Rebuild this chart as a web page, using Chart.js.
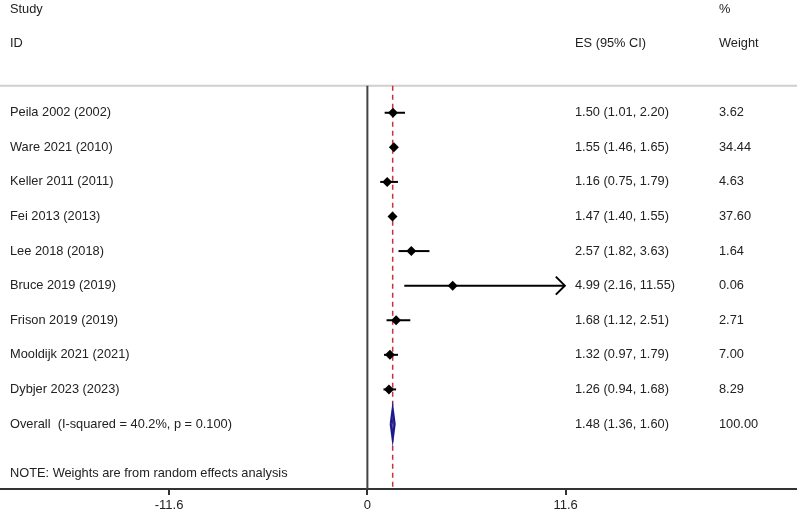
<!DOCTYPE html>
<html>
<head>
<meta charset="utf-8">
<script src="https://cdn.jsdelivr.net/npm/chart.js@4.4.0/dist/chart.umd.min.js"></script>
<style>
  html, body { margin: 0; padding: 0; background: #fff; }
  #wrap { width: 797px; height: 516px; }
</style>
</head>
<body>
<div id="wrap"><canvas id="forest"></canvas></div>
<script>
// dados do forest plot
const studies = ['Peila 2002 (2002)', 'Ware 2021 (2010)', 'Keller 2011 (2011)', 'Fei 2013 (2013)',
  'Lee 2018 (2018)', 'Bruce 2019 (2019)', 'Frison 2019 (2019)', 'Mooldijk 2021 (2021)', 'Dybjer 2023 (2023)'];
const es = [1.50, 1.55, 1.16, 1.47, 2.57, 4.99, 1.68, 1.32, 1.26];
const ciLow = [1.01, 1.46, 0.75, 1.40, 1.82, 2.16, 1.12, 0.97, 0.94];
const ciHigh = [2.20, 1.65, 1.79, 1.55, 3.63, 11.55, 2.51, 1.79, 1.68];
const weights = ['3.62', '34.44', '4.63', '37.60', '1.64', '0.06', '2.71', '7.00', '8.29'];
const overallLabel = 'Overall  (I-squared = 40.2%, p = 0.100)';
const overall = { es: 1.48, low: 1.36, high: 1.60, weight: '100.00' };
const xTicks = [-11.6, 0, 11.6];
const noteText = 'NOTE: Weights are from random effects analysis';

const TXT = '#222';
const FAMILY = '"Liberation Sans", Arial, sans-serif';
const FONT = '12.8px ' + FAMILY;
const X_MIN = -21.2, X_MAX = 24.84;
const Y_TOP = -2.116, Y_BOTTOM = 11.88;
const LINE_TOP = 0.22;
const overallRow = studies.length + 1;

// linhas de IC de cada estudo
const ciSets = studies.map((s, i) => ({
  type: 'line',
  data: [{ x: ciLow[i], y: i + 1 }, { x: ciHigh[i], y: i + 1 }],
  borderColor: '#000', borderWidth: 2, pointRadius: 0, order: 2
}));

const datasets = [
  {
    type: 'line', // linha cinza do cabeçalho
    data: [{ x: X_MIN - 0.3, y: LINE_TOP }, { x: X_MAX + 0.4, y: LINE_TOP }],
    borderColor: '#cfcfcf', borderWidth: 2, pointRadius: 0, order: 5, clip: false
  },
  {
    type: 'line', // linha do zero
    data: [{ x: 0, y: LINE_TOP }, { x: 0, y: Y_BOTTOM }],
    borderColor: '#444', borderWidth: 2, pointRadius: 0, order: 4
  },
  {
    type: 'line', // efeito global
    data: [{ x: overall.es, y: LINE_TOP }, { x: overall.es, y: Y_BOTTOM }],
    borderColor: '#c8323c', borderWidth: 1.5, borderDash: [5, 4], pointRadius: 0, order: 3
  },
  ...ciSets,
  {
    type: 'scatter',
    data: es.map((v, i) => ({ x: v, y: i + 1 })),
    pointStyle: 'rectRot', pointRadius: 5, backgroundColor: '#000', borderColor: '#000', borderWidth: 0, order: 1
  },
  {
    type: 'line', // diamante
    data: [
      { x: overall.low, y: overallRow }, { x: overall.es, y: overallRow - 0.45 },
      { x: overall.high, y: overallRow }, { x: overall.es, y: overallRow + 0.45 },
      { x: overall.low, y: overallRow }
    ],
    borderColor: '#1a1a8c', backgroundColor: 'rgba(26,26,140,0.75)', fill: 'shape',
    borderWidth: 2, pointRadius: 0, tension: 0, order: 0
  },
  {
    type: 'line', // prolongamento do eixo x
    data: [{ x: X_MIN - 0.3, y: Y_BOTTOM }, { x: X_MAX + 0.4, y: Y_BOTTOM }],
    borderColor: '#333', borderWidth: 2, pointRadius: 0, order: 6, clip: false
  }
];

const textPlugin = {
  id: 'forestText',
  afterDraw(chart) {
    const ctx = chart.ctx;
    const y = chart.scales.y, x = chart.scales.x;
    ctx.save();
    ctx.font = FONT;
    ctx.fillStyle = TXT;
    ctx.textBaseline = 'middle';
    ctx.textAlign = 'left';
    const put = (t, px, row) => ctx.fillText(t, px, y.getPixelForValue(row));
    put('Study', 10, -2);
    put('ID', 10, -1);
    put('%', 719, -2);
    put('ES (95% CI)', 575, -1);
    put('Weight', 719, -1);
    studies.forEach((s, i) => {
      put(s, 10, i + 1);
      put(es[i].toFixed(2) + ' (' + ciLow[i].toFixed(2) + ', ' + ciHigh[i].toFixed(2) + ')', 575, i + 1);
      put(weights[i], 719, i + 1);
    });
    put(overallLabel, 10, overallRow);
    put(overall.es.toFixed(2) + ' (' + overall.low.toFixed(2) + ', ' + overall.high.toFixed(2) + ')', 575, overallRow);
    put(overall.weight, 719, overallRow);
    put(noteText, 10, overallRow + 1.44);

    // seta no IC truncado
    const i = ciHigh.findIndex(v => v > 10);
    if (i >= 0) {
      const ax = x.getPixelForValue(ciHigh[i]), ay = y.getPixelForValue(i + 1);
      ctx.strokeStyle = '#000';
      ctx.lineWidth = 2;
      ctx.beginPath();
      ctx.moveTo(ax - 9, ay - 9);
      ctx.lineTo(ax, ay);
      ctx.lineTo(ax - 9, ay + 9);
      ctx.stroke();
    }
    ctx.restore();
  }
};

new Chart(document.getElementById('forest'), {
  data: { datasets },
  options: {
    responsive: true,
    maintainAspectRatio: false,
    animation: false,
    layout: { padding: 0 },
    plugins: { legend: { display: false }, tooltip: { enabled: false } },
    scales: {
      x: {
        type: 'linear', min: X_MIN, max: X_MAX,
        afterBuildTicks: s => { s.ticks = xTicks.map(v => ({ value: v })); },
        afterFit: s => { s.height = 27; s.paddingLeft = 0; s.paddingRight = 0; },
        border: { display: true, color: '#333', width: 2 },
        grid: { drawOnChartArea: false, drawTicks: true, tickLength: 6, color: '#333', lineWidth: 2 },
        ticks: { color: TXT, font: { family: FAMILY, size: 13 }, padding: 3, maxRotation: 0,
          callback: v => String(v) }
      },
      y: {
        type: 'linear', min: Y_TOP, max: Y_BOTTOM, reverse: true, display: false
      }
    }
  },
  plugins: [textPlugin]
});
</script>
</body>
</html>
